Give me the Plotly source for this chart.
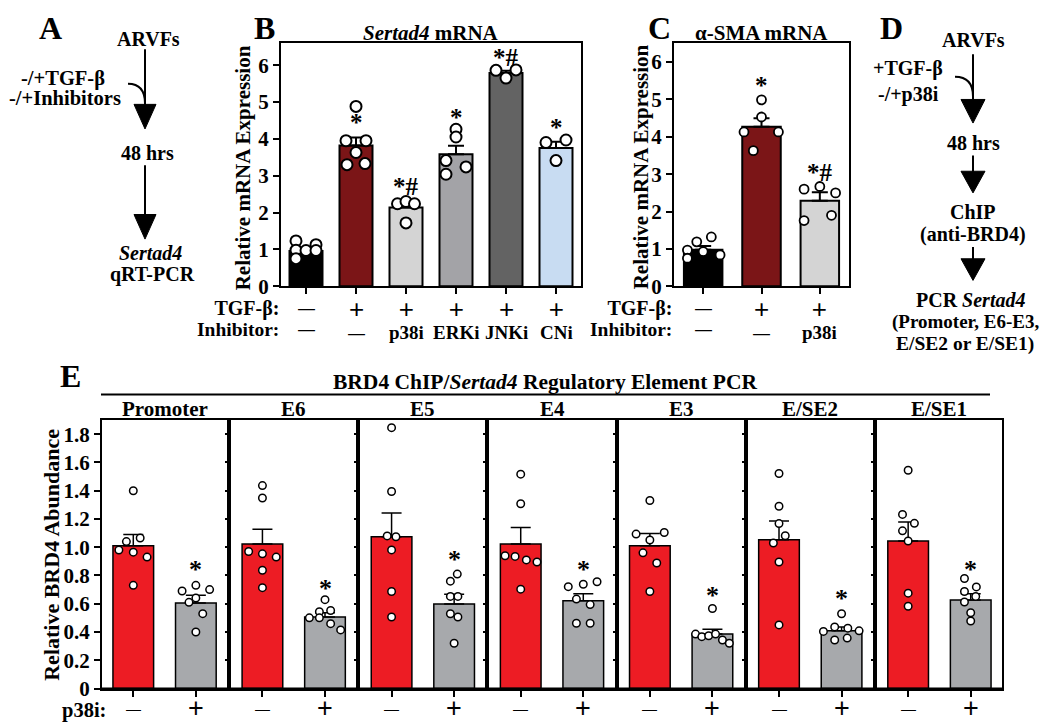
import plotly.graph_objects as go

W, H = 1050, 723
def X(px): return px / W
def Y(py): return 1 - py / H

SERIF = "Liberation Serif"
SANS = "Liberation Sans"

# ---------------- Panel B : Sertad4 mRNA ----------------
b_tgf = ["—", "+", "+", "+", "+", "+"]
b_inhibitor = ["—", "—", "p38i", "ERKi", "JNKi", "CNi"]
b_mean = [0.96, 3.82, 2.14, 3.58, 5.79, 3.75]
b_sem = [0.07, 0.22, 0.08, 0.23, 0.06, 0.17]
b_points = [
    [1.23, 1.13, 0.98, 0.97, 0.97, 0.75],
    [4.88, 3.95, 3.95, 3.63, 3.30, 3.33],
    [2.24, 2.30, 2.24, 1.72],
    [4.26, 4.05, 3.41, 3.24, 3.04],
    [5.86, 5.87, 5.65],
    [3.90, 3.97, 3.41],
]
b_jitter = [
    [-0.2, 0.2, -0.2, 0.0, 0.2, -0.2],
    [0.0, -0.2, 0.2, 0.0, -0.18, 0.18],
    [-0.17, 0.0, 0.17, 0.0],
    [0.0, 0.0, -0.2, 0.2, -0.2],
    [-0.2, 0.2, 0.0],
    [-0.2, 0.2, 0.0],
]
b_sig = ["", "*", "*#", "*", "*#", "*"]
b_sig_y = [0, 4.45, 2.72, 4.58, 6.2, 4.32]
b_colors = ["#000000", "#7b1517", "#d4d4d4", "#a3a3a7", "#636363", "#c8dcf2"]

# ---------------- Panel C : alpha-SMA mRNA ----------------
c_tgf = ["—", "+", "+"]
c_inhibitor = ["—", "—", "p38i"]
c_mean = [0.98, 4.27, 2.29]
c_sem = [0.10, 0.23, 0.23]
c_points = [
    [0.97, 1.19, 1.32, 0.93, 0.84, 0.75],
    [4.99, 4.53, 4.13, 4.13, 3.63],
    [2.60, 2.67, 2.50, 1.76, 1.90],
]
c_jitter = [
    [-0.27, -0.11, 0.14, 0.0, 0.29, -0.27],
    [0.0, 0.0, -0.3, 0.29, -0.14],
    [-0.27, 0.0, 0.27, -0.27, 0.2],
]
c_sig = ["", "*", "*#"]
c_sig_y = [0, 5.37, 3.05]
c_colors = ["#000000", "#7b1517", "#d4d4d4"]

# ---------------- Panel E : BRD4 ChIP ----------------
e_regions = ["Promoter", "E6", "E5", "E4", "E3", "E/SE2", "E/SE1"]
e_p38i = ["—", "+"]
e_minus_mean = [1.01, 1.023, 1.074, 1.023, 1.011, 1.053, 1.044]
e_minus_sem = [0.08, 0.104, 0.169, 0.116, 0.086, 0.132, 0.134]
e_plus_mean = [0.605, 0.506, 0.598, 0.622, 0.385, 0.408, 0.626]
e_plus_sem = [0.055, 0.030, 0.070, 0.048, 0.035, 0.028, 0.044]
e_minus_points = [
    [1.40, 1.065, 1.04, 0.98, 0.965, 0.93, 0.73],
    [1.436, 1.348, 0.97, 0.953, 0.93, 0.837, 0.714],
    [1.846, 1.394, 1.08, 1.074, 0.981, 0.687, 0.506],
    [1.517, 1.308, 0.94, 0.935, 0.91, 0.895, 0.703],
    [1.331, 1.093, 1.104, 1.051, 0.96, 0.888, 0.687],
    [1.522, 1.29, 1.167, 1.081, 1.03, 0.895, 0.45],
    [1.545, 1.232, 1.169, 1.116, 1.044, 0.675, 0.582],
]
e_minus_jitter = [
    [0.0, 0.11, -0.11, -0.23, 0.0, 0.22, 0.0],
    [0.0, 0.0, -0.22, 0.0, 0.22, 0.0, 0.0],
    [0.0, 0.0, -0.07, 0.07, 0.0, 0.0, 0.0],
    [0.0, 0.0, -0.25, -0.09, 0.09, 0.26, 0.0],
    [0.0, -0.22, 0.23, 0.0, -0.11, 0.11, 0.0],
    [0.0, 0.0, 0.0, 0.1, -0.09, 0.0, 0.0],
    [0.0, -0.09, 0.1, -0.09, 0.0, 0.0, 0.0],
]
e_plus_points = [
    [0.73, 0.69, 0.70, 0.64, 0.61, 0.53, 0.40],
    [0.629, 0.543, 0.552, 0.50, 0.50, 0.459, 0.415],
    [0.81, 0.76, 0.652, 0.652, 0.529, 0.506, 0.32],
    [0.738, 0.721, 0.756, 0.633, 0.594, 0.462, 0.462],
    [0.566, 0.385, 0.367, 0.373, 0.385, 0.343, 0.32],
    [0.529, 0.436, 0.427, 0.404, 0.408, 0.343, 0.357],
    [0.779, 0.719, 0.687, 0.652, 0.612, 0.536, 0.478],
]
e_plus_jitter = [
    [0.0, -0.22, 0.22, 0.0, -0.11, 0.11, 0.0],
    [0.0, -0.09, 0.09, -0.25, -0.09, 0.09, 0.25],
    [0.05, -0.06, -0.06, 0.06, -0.06, 0.06, 0.0],
    [0.0, -0.24, 0.22, -0.11, 0.11, -0.11, 0.11],
    [0.0, -0.27, -0.17, -0.06, 0.05, 0.16, 0.27],
    [0.0, -0.11, 0.1, -0.29, 0.28, -0.11, 0.09],
    [-0.1, 0.09, -0.1, 0.08, -0.1, 0.0, 0.0],
]
e_sig_y = [0.84, 0.71, 0.91, 0.84, 0.66, 0.64, 0.84]
e_ticks = [0, 0.2, 0.4, 0.6, 0.8, 1.0, 1.2, 1.4, 1.6, 1.8]
e_ticktext = ["0", "0.2", "0.4", "0.6", "0.8", "1.0", "1.2", "1.4", "1.6", "1.8"]
e_colors = ["#ed1c24", "#a7a9ac"]

fig = go.Figure()
annotations = []
shapes = []

def ann(text, x, y, size=21, xanchor="center", yanchor="middle", family=SERIF,
        bold=True, angle=0, xref="paper", yref="paper", align="center"):
    annotations.append(dict(
        text=text, x=x, y=y, xref=xref, yref=yref, showarrow=False,
        xanchor=xanchor, yanchor=yanchor, textangle=angle, align=align,
        font=dict(family=family, size=size, color="black",
                  weight="bold" if bold else "normal")))

def sym(s):
    """HTML for one entry of a condition-label row."""
    if s == "+":
        return "<span style='font-family:Liberation Sans;font-size:26px;font-weight:normal'>+</span>"
    if s == "—":
        return "<span style='font-family:Liberation Sans;font-size:17px;font-weight:normal'>—</span>"
    return f"<span style='font-size:19px'>{s}</span>"

def bars_and_points(xax, yax, cats, means, sems, colors, points, jitter,
                    width, lw, cap):
    fig.add_trace(go.Bar(
        x=cats, y=means, width=width, xaxis=xax, yaxis=yax,
        marker=dict(color=colors, line=dict(color="black", width=lw)),
        error_y=dict(type="data", symmetric=False, array=sems,
                     arrayminus=[0] * len(sems), color="black",
                     thickness=lw, width=cap),
        showlegend=False, hoverinfo="skip"))
    xs, ys = [], []
    for c, pts, jit in zip(cats, points, jitter):
        xs += [c + j for j in jit]
        ys += pts
    return xs, ys

scatter_layers = []

bx = list(range(len(b_mean)))
xs, ys = bars_and_points("x", "y", bx, b_mean, b_sem, b_colors, b_points,
                         b_jitter, 0.66, 2, 8)
scatter_layers.append(("x", "y", xs, ys, 11, 2))
cx = list(range(len(c_mean)))
xs, ys = bars_and_points("x2", "y2", cx, c_mean, c_sem, c_colors, c_points,
                         c_jitter, 0.66, 2, 8)
scatter_layers.append(("x2", "y2", xs, ys, 9, 1.8))
for k in range(len(e_regions)):
    xa, ya = f"x{k + 3}", f"y{k + 3}"
    xs, ys = bars_and_points(
        xa, ya, [0, 1], [e_minus_mean[k], e_plus_mean[k]],
        [e_minus_sem[k], e_plus_sem[k]], e_colors,
        [e_minus_points[k], e_plus_points[k]],
        [e_minus_jitter[k], e_plus_jitter[k]], 0.65, 1.5, 10)
    scatter_layers.append((xa, ya, xs, ys, 7.5, 1.5))

for xa, ya, xs, ys, ms, mlw in scatter_layers:
    fig.add_trace(go.Scatter(
        x=xs, y=ys, xaxis=xa, yaxis=ya, mode="markers",
        marker=dict(size=ms, color="white", line=dict(color="black", width=mlw)),
        showlegend=False, hoverinfo="skip", cliponaxis=False))

axis_common = dict(showline=True, linecolor="black", mirror=True,
                   showgrid=False, zeroline=False, ticks="outside",
                   tickcolor="black")
tickfont = dict(family=SERIF, size=21, weight="bold", color="black")
layout = {}

layout["xaxis"] = dict(axis_common, domain=[X(273), X(573)], range=[-0.5, 5.5],
                       linewidth=2, tickwidth=2, ticklen=6, tickvals=bx,
                       showticklabels=False, anchor="y")
layout["yaxis"] = dict(axis_common, domain=[Y(283), Y(36)], range=[0, 6.59],
                       linewidth=2, tickwidth=2, ticklen=6,
                       tickvals=[0, 1, 2, 3, 4, 5, 6], anchor="x", tickfont=tickfont)
layout["xaxis2"] = dict(axis_common, domain=[X(666), X(841)], range=[-0.5, 2.5],
                        linewidth=2, tickwidth=2, ticklen=6, tickvals=cx,
                        showticklabels=False, anchor="y2")
layout["yaxis2"] = dict(axis_common, domain=[Y(283), Y(36)], range=[0, 6.5],
                        linewidth=2, tickwidth=2, ticklen=6,
                        tickvals=[0, 1, 2, 3, 4, 5, 6], anchor="x2", tickfont=tickfont)

e_left, e_right, e_gap = 94, 994, 4
e_w = (e_right - e_left - e_gap * (len(e_regions) - 1)) / len(e_regions)
e_top, e_bot = 419, 692
for k in range(len(e_regions)):
    l = e_left + k * (e_w + e_gap)
    r = l + e_w
    n = k + 3
    layout[f"xaxis{n}"] = dict(axis_common, domain=[X(l), X(r)], range=[-0.5, 1.5],
                               linewidth=2, tickwidth=1.5, ticklen=6, tickvals=[0, 1],
                               showticklabels=False, anchor=f"y{n}")
    ya = dict(axis_common, domain=[Y(e_bot), Y(e_top)], range=[0, 1.9],
              linewidth=2, tickwidth=1.5, tickvals=e_ticks, anchor=f"x{n}")
    if k == 0:
        ya.update(ticklen=6, ticktext=e_ticktext, tickfont=tickfont)
    else:
        ya.update(ticklen=4, showticklabels=False)
    layout[f"yaxis{n}"] = ya
    ann(e_regions[k], X((l + r) / 2), Y(408), size=21)
    for j, lab in enumerate(e_p38i):
        bxp = l + e_w * (0.25 + 0.5 * j)
        if lab == "+":
            ann("+", X(bxp), Y(712), size=27, family=SANS, bold=False)
        else:
            ann("—", X(bxp), Y(712), size=15, family=SANS, bold=False)
    ann("*", 1, e_sig_y[k], size=26, xref=f"x{n}", yref=f"y{n}")

shapes.append(dict(type="line", xref="paper", yref="paper", x0=X(e_left), x1=X(e_right),
                   y0=Y(e_bot), y1=Y(e_bot), line=dict(color="black", width=2)))
shapes.append(dict(type="line", xref="paper", yref="paper", x0=X(93), x1=X(982),
                   y0=Y(393), y1=Y(393), line=dict(color="black", width=2)))
ann("BRD4 ChIP/<i>Sertad4</i> Regulatory Element PCR", X(537), Y(380), size=21.5)
ann("Relative BRD4 Abundance", X(44), Y(556), size=22, angle=-90)
ann("p38i:", X(100), Y(714), size=20.5, xanchor="right")

ROW_FONT = 21 / 1.3
ROW_Y = 316
def condition_rows(x_axis_left, step, tgf, inh):
    ann("<span style='font-size:20px'>TGF-β:</span><br>"
        "<span style='font-size:19.5px'>Inhibitor:</span>",
        X(x_axis_left), Y(ROW_Y), size=ROW_FONT, xanchor="right", align="right")
    for i in range(len(tgf)):
        xp = x_axis_left + step * (i + 0.5)
        ann(sym(tgf[i]) + "<br>" + sym(inh[i]), X(xp), Y(ROW_Y), size=ROW_FONT)

# B texts
ann("<i>Sertad4</i> mRNA", X(423), Y(25), size=21)
ann("Relative mRNA Expression", X(235), Y(163), size=21, angle=-90)
condition_rows(273, 50, b_tgf, b_inhibitor)
for i in range(len(b_mean)):
    if b_sig[i]:
        ann(b_sig[i], i, b_sig_y[i], size=25, xref="x", yref="y")

# C texts
ann("α-SMA mRNA", X(753), Y(25), size=21)
ann("Relative mRNA Expression", X(633), Y(162), size=21, angle=-90)
condition_rows(666, 175 / 3, c_tgf, c_inhibitor)
for i in range(len(c_mean)):
    if c_sig[i]:
        ann(c_sig[i], i, c_sig_y[i], size=25, xref="x2", yref="y2")

# Panel letters
for letter, (lx, ly) in {"A": (42, 0), "B": (256, 0), "C": (651, 0),
                         "D": (883, 0), "E": (62, 354)}.items():
    ann(letter, X(lx), Y(ly), size=32, yanchor="top")

def arrow(x, y0, y1, head=25, hw=11):
    shapes.append(dict(type="line", xref="paper", yref="paper", x0=X(x), x1=X(x),
                       y0=Y(y0), y1=Y(y1 - head + 2), line=dict(color="black", width=2)))
    path = (f"M {X(x - hw)},{Y(y1 - head)} L {X(x + hw)},{Y(y1 - head)} "
            f"L {X(x)},{Y(y1)} Z")
    shapes.append(dict(type="path", xref="paper", yref="paper", path=path,
                       fillcolor="black", line=dict(color="black", width=1)))

def curve(x0, y0, x1, y1):
    path = f"M {X(x0)},{Y(y0)} Q {X(x1)},{Y(y0)} {X(x1)},{Y(y1)}"
    shapes.append(dict(type="path", xref="paper", yref="paper", path=path,
                       line=dict(color="black", width=2)))

# Panel A
ax = 137
ann("ARVFs", X(140), Y(32), size=20)
ann("-/+TGF-β", X(55), Y(72), size=20.5)
ann("-/+Inhibitors", X(57), Y(92), size=20.5)
arrow(ax, 42, 123)
curve(120, 77, ax, 97)
ann("48 hrs", X(139), Y(147), size=20)
arrow(ax, 160, 235)
ann("<i>Sertad4</i>", X(142), Y(249), size=20)
ann("qRT-PCR", X(144), Y(271), size=20)

# Panel D
dx = 965
ann("ARVFs", X(dx), Y(33), size=20)
ann("+TGF-β", X(900), Y(62), size=20)
ann("-/+p38i", X(900), Y(88), size=20)
arrow(dx, 47, 117, head=24, hw=12)
curve(947, 70, dx, 90)
ann("48 hrs", X(dx), Y(137), size=20)
arrow(dx, 150, 188, head=22, hw=12)
ann("ChIP", X(dx), Y(207), size=20)
ann("(anti-BRD4)", X(dx), Y(230), size=20)
arrow(dx, 243, 277, head=22, hw=12)
ann("PCR <i>Sertad4</i>", X(962), Y(297), size=20)
ann("(Promoter, E6-E3,", X(957), Y(319), size=19)
ann("E/SE2 or E/SE1)", X(957), Y(342), size=19.5)

fig.update_layout(
    width=W, height=H, margin=dict(l=0, r=0, t=0, b=0),
    paper_bgcolor="white", plot_bgcolor="white",
    font=dict(family=SERIF, color="black"),
    annotations=annotations, shapes=shapes, showlegend=False,
    **layout)

fig.write_html("out.html")
